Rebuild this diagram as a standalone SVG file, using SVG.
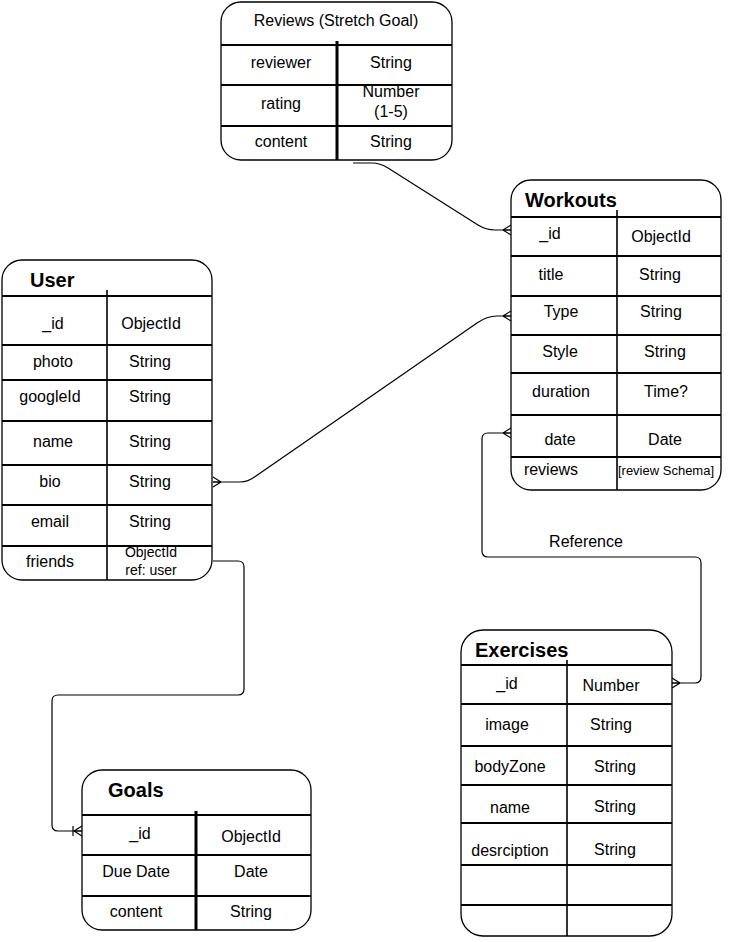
<svg xmlns="http://www.w3.org/2000/svg" width="742" height="942" viewBox="0 0 742 942">
<style>
.box{fill:#fff;stroke:#000;stroke-width:1.3}
.row{stroke:#000;stroke-width:2}
.div{stroke:#000;stroke-width:1.6}
.thick{stroke:#000;stroke-width:3}
text{font-family:"Liberation Sans",Arial,sans-serif;font-size:16px;fill:#000;text-anchor:middle}
.t{font-weight:bold;font-size:20px;text-anchor:start}
.s14{font-size:14px}
.s13{font-size:13px}
.c{fill:none;stroke:#000;stroke-width:1.2}
</style>
<defs>
<marker id="crow" markerUnits="userSpaceOnUse" markerWidth="20" markerHeight="20" viewBox="-10 -10 20 20" refX="0" refY="0" orient="auto-start-reverse">
<path d="M-8,0 L0,-5 M-8,0 L0,0 M-8,0 L0,5" fill="none" stroke="#000" stroke-width="1.2"/>
</marker>
<marker id="crowbar" markerUnits="userSpaceOnUse" markerWidth="24" markerHeight="20" viewBox="-12 -10 24 20" refX="0" refY="0" orient="auto-start-reverse">
<path d="M-8,0 L0,-5 M-8,0 L0,0 M-8,0 L0,5 M-9,-5 L-9,5" fill="none" stroke="#000" stroke-width="1.2"/>
</marker>
</defs>

<g id="connectors">
<path class="c" d="M353,163 L372,163 Q380,163 388,168 L478,225 Q486,230 495,230 L511,230" marker-end="url(#crow)"/>
<path class="c" d="M213,482 L240,482 Q248,482 256,476 L477,323 Q487,316 497,316 L511,316" marker-start="url(#crow)" marker-end="url(#crow)"/>
<path class="c" d="M511,433 L488,433 Q482,433 482,439 L482,551 Q482,557 488,557 L695,557 Q701,557 701,563 L701,677 Q701,683 695,683 L672,683" marker-start="url(#crow)" marker-end="url(#crow)"/>
<path class="c" d="M213,561 L238,561 Q244,561 244,567 L244,689 Q244,695 238,695 L58,695 Q52,695 52,701 L52,825 Q52,831 58,831 L82,831" marker-end="url(#crowbar)"/>
<text x="586" y="547">Reference</text>
</g>

<g id="reviews">
<rect class="box" x="221" y="2" width="231" height="158" rx="20"/>
<line class="row" x1="221" y1="45" x2="452" y2="45"/>
<line class="row" x1="221" y1="85" x2="452" y2="85"/>
<line class="row" x1="221" y1="126" x2="452" y2="126"/>
<line class="thick" x1="337" y1="41" x2="337" y2="160"/>
<text x="336" y="26">Reviews (Stretch Goal)</text>
<text x="281" y="68">reviewer</text><text x="391" y="68">String</text>
<text x="281" y="109">rating</text><text x="391" y="97">Number</text><text x="391" y="117">(1-5)</text>
<text x="281" y="147">content</text><text x="391" y="147">String</text>
</g>

<g id="workouts">
<rect class="box" x="511" y="180" width="210" height="310" rx="20"/>
<line class="row" x1="511" y1="217" x2="721" y2="217"/>
<line class="row" x1="511" y1="256" x2="721" y2="256"/>
<line class="row" x1="511" y1="296" x2="721" y2="296"/>
<line class="row" x1="511" y1="335" x2="721" y2="335"/>
<line class="row" x1="511" y1="373" x2="721" y2="373"/>
<line class="row" x1="511" y1="415" x2="721" y2="415"/>
<line class="row" x1="511" y1="457" x2="721" y2="457"/>
<line class="div" x1="617" y1="210" x2="617" y2="490"/>
<text class="t" x="525" y="207">Workouts</text>
<text x="550" y="239">_id</text><text x="661" y="242">ObjectId</text>
<text x="551" y="280">title</text><text x="660" y="280">String</text>
<text x="561" y="317">Type</text><text x="661" y="317">String</text>
<text x="560" y="357">Style</text><text x="665" y="357">String</text>
<text x="561" y="397">duration</text><text x="666" y="397">Time?</text>
<text x="560" y="445">date</text><text x="665" y="445">Date</text>
<text x="551" y="475">reviews</text><text class="s13" x="666" y="475">[review Schema]</text>
</g>

<g id="user">
<rect class="box" x="2" y="260" width="210" height="320" rx="20"/>
<line class="row" x1="2" y1="296" x2="212" y2="296"/>
<line class="row" x1="2" y1="345" x2="212" y2="345"/>
<line class="row" x1="2" y1="380" x2="212" y2="380"/>
<line class="row" x1="2" y1="421" x2="212" y2="421"/>
<line class="row" x1="2" y1="465" x2="212" y2="465"/>
<line class="row" x1="2" y1="505" x2="212" y2="505"/>
<line class="row" x1="2" y1="546" x2="212" y2="546"/>
<line class="div" x1="107" y1="290" x2="107" y2="580"/>
<text class="t" x="30" y="287">User</text>
<text x="53" y="329">_id</text><text x="151" y="329">ObjectId</text>
<text x="53" y="367">photo</text><text x="150" y="367">String</text>
<text x="50" y="402">googleId</text><text x="150" y="402">String</text>
<text x="53" y="447">name</text><text x="150" y="447">String</text>
<text x="50" y="487">bio</text><text x="150" y="487">String</text>
<text x="50" y="527">email</text><text x="150" y="527">String</text>
<text x="50" y="567">friends</text><text class="s14" x="151" y="557">ObjectId</text><text class="s14" x="151" y="575">ref: user</text>
</g>

<g id="goals">
<rect class="box" x="82" y="770" width="229" height="160" rx="20"/>
<line class="row" x1="82" y1="815" x2="311" y2="815"/>
<line class="row" x1="82" y1="855" x2="311" y2="855"/>
<line class="row" x1="82" y1="896" x2="311" y2="896"/>
<line class="thick" x1="196" y1="811" x2="196" y2="930"/>
<text class="t" x="108" y="797">Goals</text>
<text x="140" y="839">_id</text><text x="251" y="842">ObjectId</text>
<text x="136" y="877">Due Date</text><text x="251" y="877">Date</text>
<text x="136" y="917">content</text><text x="251" y="917">String</text>
</g>

<g id="exercises">
<rect class="box" x="461" y="630" width="211" height="306" rx="22"/>
<line class="row" x1="461" y1="665" x2="672" y2="665"/>
<line class="row" x1="461" y1="704" x2="672" y2="704"/>
<line class="row" x1="461" y1="746" x2="672" y2="746"/>
<line class="row" x1="461" y1="785" x2="672" y2="785"/>
<line class="row" x1="461" y1="823" x2="672" y2="823"/>
<line class="row" x1="461" y1="865" x2="672" y2="865"/>
<line class="row" x1="461" y1="905" x2="672" y2="905"/>
<line class="div" x1="567" y1="660" x2="567" y2="936"/>
<text class="t" x="475" y="657">Exercises</text>
<text x="507" y="689">_id</text><text x="611" y="691">Number</text>
<text x="507" y="730">image</text><text x="611" y="730">String</text>
<text x="510" y="772">bodyZone</text><text x="615" y="772">String</text>
<text x="510" y="813">name</text><text x="615" y="812">String</text>
<text x="510" y="856">desrciption</text><text x="615" y="855">String</text>
</g>
</svg>
